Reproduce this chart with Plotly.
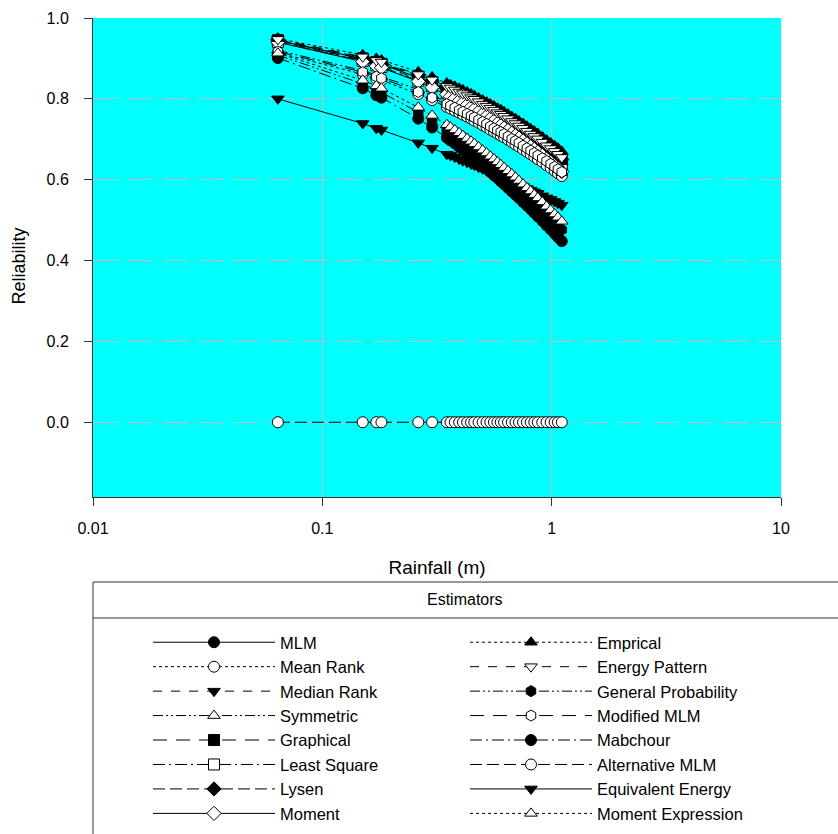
import plotly.graph_objects as go

# ---------------- data ----------------
RAINFALL_M = [0.064, 0.150, 0.172, 0.181, 0.262, 0.301, 0.349, 0.362, 0.378, 0.395,
              0.410, 0.428, 0.445, 0.460, 0.480, 0.500, 0.520, 0.540, 0.560, 0.580,
              0.600, 0.620, 0.645, 0.670, 0.695, 0.720, 0.750, 0.780, 0.810, 0.840,
              0.870, 0.910, 0.950, 0.990, 1.030, 1.065, 1.107]

MLM = [0.944, 0.899, 0.889, 0.885, 0.853, 0.839, 0.823, 0.818, 0.813, 0.808, 0.803, 0.798, 0.793,
       0.789, 0.783, 0.777, 0.771, 0.766, 0.761, 0.755, 0.750, 0.745, 0.739, 0.732, 0.727, 0.721,
       0.714, 0.707, 0.700, 0.693, 0.687, 0.679, 0.670, 0.663, 0.655, 0.648, 0.640]
MEAN_RANK = [0.914, 0.861, 0.850, 0.846, 0.812, 0.797, 0.780, 0.776, 0.771, 0.766, 0.761, 0.756,
             0.751, 0.746, 0.741, 0.735, 0.730, 0.724, 0.719, 0.714, 0.709, 0.705, 0.699, 0.693,
             0.687, 0.682, 0.675, 0.669, 0.663, 0.657, 0.651, 0.644, 0.636, 0.629, 0.622, 0.616, 0.609]
MEDIAN_RANK = [0.942, 0.896, 0.886, 0.882, 0.849, 0.835, 0.818, 0.814, 0.809, 0.803, 0.798, 0.793,
               0.788, 0.783, 0.777, 0.771, 0.766, 0.760, 0.755, 0.749, 0.744, 0.738, 0.732, 0.726,
               0.720, 0.714, 0.707, 0.700, 0.693, 0.686, 0.680, 0.671, 0.663, 0.655, 0.647, 0.640, 0.632]
SYMMETRIC = [0.920, 0.870, 0.859, 0.855, 0.823, 0.809, 0.793, 0.789, 0.784, 0.779, 0.775, 0.770,
             0.765, 0.761, 0.756, 0.750, 0.745, 0.740, 0.735, 0.730, 0.726, 0.721, 0.716, 0.710,
             0.705, 0.699, 0.693, 0.687, 0.681, 0.676, 0.670, 0.663, 0.656, 0.649, 0.642, 0.636, 0.629]
GRAPHICAL = [0.945, 0.900, 0.891, 0.887, 0.855, 0.841, 0.825, 0.820, 0.815, 0.810, 0.806, 0.801,
             0.796, 0.791, 0.786, 0.780, 0.774, 0.769, 0.764, 0.758, 0.753, 0.748, 0.742, 0.735,
             0.730, 0.724, 0.717, 0.710, 0.703, 0.697, 0.690, 0.682, 0.674, 0.666, 0.658, 0.652, 0.644]
LEAST_SQUARE = [0.941, 0.894, 0.883, 0.879, 0.845, 0.831, 0.814, 0.809, 0.804, 0.798, 0.793, 0.788,
                0.782, 0.778, 0.772, 0.766, 0.760, 0.754, 0.749, 0.743, 0.738, 0.732, 0.726, 0.719,
                0.713, 0.707, 0.700, 0.693, 0.686, 0.679, 0.672, 0.664, 0.655, 0.647, 0.639, 0.632, 0.624]
LYSEN = [0.946, 0.902, 0.893, 0.889, 0.858, 0.844, 0.828, 0.824, 0.819, 0.814, 0.810, 0.805, 0.800,
         0.795, 0.789, 0.783, 0.778, 0.773, 0.767, 0.762, 0.757, 0.752, 0.746, 0.739, 0.734, 0.728,
         0.721, 0.714, 0.708, 0.701, 0.695, 0.687, 0.678, 0.671, 0.664, 0.657, 0.650]
MOMENT = [0.940, 0.892, 0.881, 0.877, 0.843, 0.828, 0.811, 0.806, 0.801, 0.795, 0.790, 0.785, 0.779,
          0.774, 0.768, 0.762, 0.757, 0.751, 0.745, 0.739, 0.734, 0.728, 0.722, 0.715, 0.709, 0.703,
          0.696, 0.689, 0.682, 0.675, 0.668, 0.660, 0.651, 0.643, 0.635, 0.628, 0.620]
EMPRICAL = [0.949, 0.909, 0.900, 0.896, 0.867, 0.854, 0.839, 0.835, 0.831, 0.826, 0.822, 0.817,
            0.812, 0.808, 0.802, 0.797, 0.792, 0.787, 0.782, 0.777, 0.773, 0.768, 0.762, 0.756,
            0.751, 0.745, 0.739, 0.732, 0.726, 0.720, 0.714, 0.706, 0.698, 0.691, 0.684, 0.678, 0.670]
ENERGY_PATTERN = [0.947, 0.904, 0.895, 0.891, 0.860, 0.847, 0.831, 0.827, 0.822, 0.817, 0.813, 0.808,
                  0.803, 0.799, 0.793, 0.787, 0.782, 0.777, 0.772, 0.766, 0.762, 0.757, 0.751, 0.744,
                  0.739, 0.733, 0.727, 0.720, 0.713, 0.707, 0.701, 0.693, 0.684, 0.677, 0.670, 0.663, 0.655]
GENERAL_PROBABILITY = [0.908, 0.837, 0.822, 0.816, 0.767, 0.746, 0.722, 0.716, 0.708, 0.701, 0.694,
                       0.686, 0.679, 0.673, 0.664, 0.656, 0.649, 0.641, 0.633, 0.626, 0.619, 0.612,
                       0.604, 0.595, 0.587, 0.579, 0.570, 0.561, 0.552, 0.543, 0.535, 0.524, 0.514,
                       0.503, 0.494, 0.485, 0.476]
MODIFIED_MLM = [0.917, 0.866, 0.855, 0.851, 0.817, 0.803, 0.787, 0.783, 0.778, 0.772, 0.768, 0.763,
                0.758, 0.754, 0.748, 0.743, 0.738, 0.732, 0.727, 0.722, 0.718, 0.713, 0.707, 0.701,
                0.696, 0.691, 0.684, 0.678, 0.672, 0.666, 0.660, 0.653, 0.646, 0.639, 0.632, 0.626, 0.619]
MABCHOUR = [0.901, 0.826, 0.809, 0.803, 0.751, 0.729, 0.704, 0.697, 0.690, 0.681, 0.674, 0.666,
            0.659, 0.652, 0.643, 0.635, 0.627, 0.619, 0.611, 0.604, 0.596, 0.589, 0.580, 0.571,
            0.563, 0.555, 0.545, 0.536, 0.527, 0.518, 0.509, 0.498, 0.487, 0.477, 0.467, 0.458, 0.448]
ALTERNATIVE_MLM = [0.0] * 37
EQUIVALENT_ENERGY = [0.800, 0.739, 0.727, 0.723, 0.691, 0.678, 0.663, 0.660, 0.656, 0.651, 0.647,
                     0.643, 0.639, 0.636, 0.631, 0.627, 0.623, 0.619, 0.615, 0.611, 0.607, 0.604,
                     0.600, 0.595, 0.591, 0.587, 0.583, 0.578, 0.574, 0.570, 0.566, 0.560, 0.555,
                     0.551, 0.546, 0.542, 0.537]
MOMENT_EXPRESSION = [0.913, 0.846, 0.832, 0.826, 0.779, 0.759, 0.736, 0.730, 0.723, 0.716, 0.709,
                     0.702, 0.695, 0.689, 0.681, 0.673, 0.666, 0.658, 0.651, 0.644, 0.637, 0.630,
                     0.622, 0.614, 0.606, 0.598, 0.589, 0.580, 0.572, 0.563, 0.555, 0.545, 0.534,
                     0.525, 0.515, 0.507, 0.497]

X_TICKS = [0.01, 0.1, 1, 10]
X_TICK_LABELS = ["0.01", "0.1", "1", "10"]
Y_TICKS = [0.0, 0.2, 0.4, 0.6, 0.8, 1.0]
Y_TICK_LABELS = ["0.0", "0.2", "0.4", "0.6", "0.8", "1.0"]

# ---------------- styles ----------------
DASH_DDOT = "10px,3px,2px,3px,2px,3px"
DASH_GAP = "14px,9px"
DASH_DOT = "12px,4px,2px,4px"
DASH_LONG = "12px,5px"
GRID_COLOR = "#bdbdbd"

# name, values, dash, symbol, filled, legend
SPECS = [
    ("MLM", MLM, "solid", "circle", True, "legend"),
    ("Mean Rank", MEAN_RANK, "dot", "circle", False, "legend"),
    ("Median Rank", MEDIAN_RANK, "dash", "triangle-down", True, "legend"),
    ("Symmetric", SYMMETRIC, DASH_DDOT, "triangle-up", False, "legend"),
    ("Graphical", GRAPHICAL, DASH_GAP, "square", True, "legend"),
    ("Least Square", LEAST_SQUARE, DASH_DOT, "square", False, "legend"),
    ("Lysen", LYSEN, DASH_LONG, "diamond", True, "legend"),
    ("Moment", MOMENT, "solid", "diamond", False, "legend"),
    ("Emprical", EMPRICAL, "dot", "triangle-up", True, "legend2"),
    ("Energy Pattern", ENERGY_PATTERN, "dash", "triangle-down", False, "legend2"),
    ("General Probability", GENERAL_PROBABILITY, DASH_DDOT, "hexagon", True, "legend2"),
    ("Modified MLM", MODIFIED_MLM, DASH_GAP, "hexagon", False, "legend2"),
    ("Mabchour", MABCHOUR, DASH_DOT, "circle", True, "legend2"),
    ("Alternative MLM", ALTERNATIVE_MLM, DASH_LONG, "circle", False, "legend2"),
    ("Equivalent Energy", EQUIVALENT_ENERGY, "solid", "triangle-down", True, "legend2"),
    ("Moment Expression", MOMENT_EXPRESSION, "dot", "triangle-up", False, "legend2"),
]

FONT = "Liberation Sans, Arial, sans-serif"

fig = go.Figure()
for name, vals, dash, sym, filled, leg in SPECS:
    fig.add_trace(go.Scatter(
        x=RAINFALL_M, y=vals, name=name, mode="lines+markers",
        line=dict(color="black", width=1, dash=dash),
        marker=dict(symbol=sym, size=11, color="black" if filled else "white",
                    line=dict(color="black", width=1)),
        legend=leg,
    ))

LEG_COMMON = dict(xanchor="left", yanchor="top", xref="container", yref="container",
                  orientation="v", font=dict(size=16.5), bgcolor="rgba(0,0,0,0)",
                  itemwidth=122, tracegroupgap=0)

# vertical grid lines at the inner decade ticks (drawn as axis-referenced shapes)
grid_shapes = [
    dict(type="line", xref="x", yref="paper", x0=v, x1=v, y0=0, y1=1, layer="below",
         line=dict(color=GRID_COLOR, width=1))
    for v in X_TICKS[1:-1]
]

fig.update_layout(
    width=838, height=834,
    margin=dict(l=93, r=57, t=18, b=337, autoexpand=False),
    paper_bgcolor="white",
    plot_bgcolor="#00FFFF",
    font=dict(family=FONT, color="black", size=16),
    showlegend=True,
    legend=dict(x=148 / 838, y=1 - 625 / 834, **LEG_COMMON),
    legend2=dict(x=465 / 838, y=1 - 625 / 834, **LEG_COMMON),
    xaxis=dict(type="log", range=[-2, 1], tickvals=X_TICKS, ticktext=X_TICK_LABELS,
               ticks="outside", ticklen=8, tickcolor="#333", showline=True, linecolor="#333",
               linewidth=1, mirror=False, showgrid=False,
               zeroline=False, ticklabelstandoff=9, automargin=False,
               title=dict(text="Rainfall (m)", font=dict(size=19), standoff=24)),
    yaxis=dict(range=[-0.185, 1.0], tickvals=Y_TICKS, ticktext=Y_TICK_LABELS,
               ticks="outside", ticklen=8, tickcolor="#333", showline=True, linecolor="#333",
               linewidth=1, mirror=False, showgrid=True, gridcolor=GRID_COLOR, gridwidth=1,
               griddash="25px,10px", zeroline=False, ticklabelstandoff=12, automargin=False),
    shapes=grid_shapes + [
        dict(type="rect", xref="paper", yref="paper", x0=0, x1=1.2, y0=-0.85, y1=-0.1775,
             line=dict(color="#333", width=1), fillcolor="rgba(0,0,0,0)", layer="below"),
        dict(type="line", xref="paper", yref="paper", x0=0, x1=1.2, y0=-0.2526, y1=-0.2526,
             line=dict(color="#333", width=1)),
    ],
    annotations=[
        dict(text="Estimators", xref="paper", yref="paper", x=0.541, y=-0.215,
             showarrow=False, font=dict(size=16), xanchor="center", yanchor="middle"),
        dict(text="Reliability", xref="paper", yref="paper", x=-0.107, y=0.482,
             textangle=-90, showarrow=False, font=dict(size=18),
             xanchor="center", yanchor="middle"),
    ],
)

fig.write_html("out.html", config={"displayModeBar": False},
               post_script="document.body.style.margin='0';")
